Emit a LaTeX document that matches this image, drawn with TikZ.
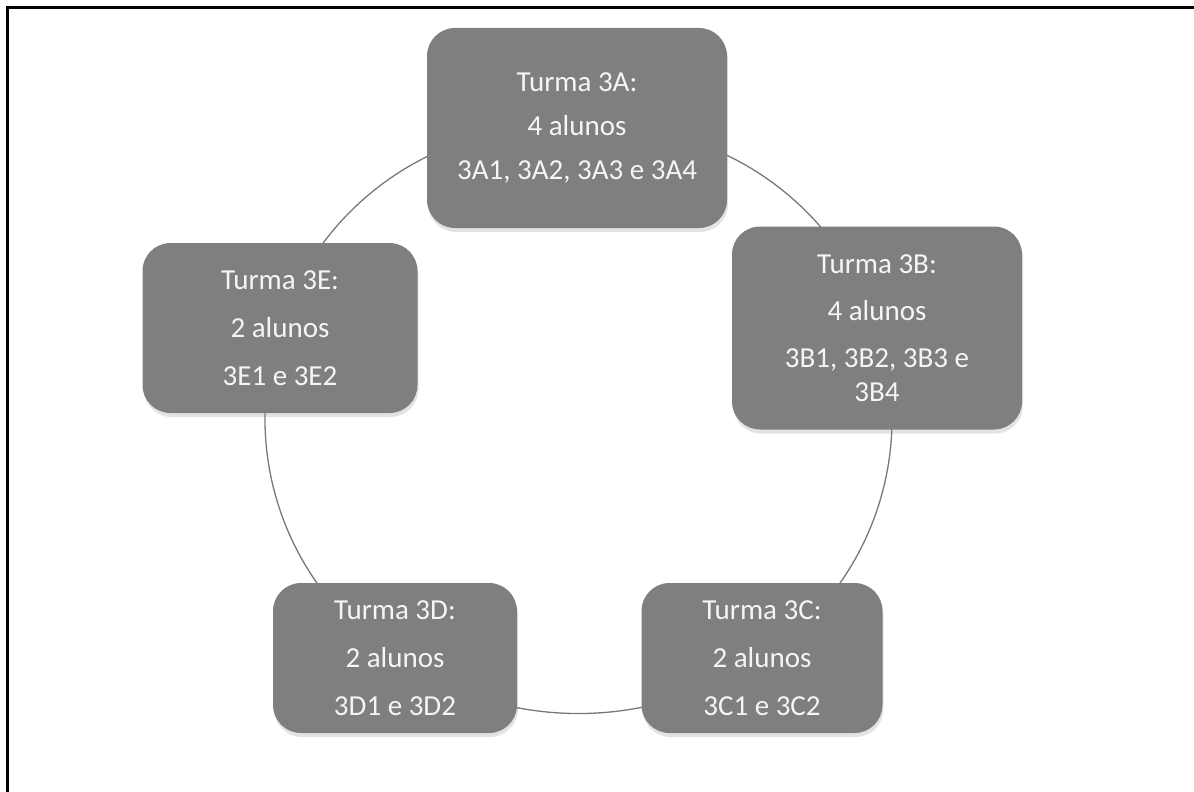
\documentclass[tikz,border=0pt]{standalone}
\usepackage{fontspec}
\setmainfont{Carlito}
\usetikzlibrary{backgrounds,shadows}
\definecolor{boxgray}{RGB}{127,127,127}
\definecolor{linegray}{RGB}{120,120,120}
\definecolor{txt}{RGB}{245,245,245}
\tikzset{
  turma/.style={draw=none, fill=boxgray, rounded corners=28pt, text=txt,
    align=center, font=\fontsize{29pt}{34pt}\selectfont, inner sep=0pt,
    drop shadow={shadow xshift=1pt, shadow yshift=-4pt, opacity=0.22}},
  link/.style={draw=linegray, line width=1.3pt, looseness=0.95},
  frameline/.style={draw=black, line width=3pt}
}
\begin{document}
\begin{tikzpicture}[x=1pt, y=-1pt]
\useasboundingbox (0,0) rectangle (1194,792);
\coordinate (fb) at (7,795);
\coordinate (fc) at (7,8);
\coordinate (fr) at (1197,8);
\draw[frameline] (fb) -- (fc) -- (fr);

\node[turma, minimum width=300pt, minimum height=200pt] (A) at (577,128)
  {Turma 3A:\\[10pt] 4 alunos\\[10pt] 3A1, 3A2, 3A3 e 3A4};
\node[turma, minimum width=290pt, minimum height=203pt] (B) at (877,328)
  {Turma 3B:\\[13pt] 4 alunos\\[13pt] 3B1, 3B2, 3B3 e\\ 3B4};
\node[turma, minimum width=241pt, minimum height=150pt] (C) at (762,658)
  {Turma 3C:\\[14pt] 2 alunos\\[14pt] 3C1 e 3C2};
\node[turma, minimum width=244pt, minimum height=150pt] (D) at (395,658)
  {Turma 3D:\\[14pt] 2 alunos\\[14pt] 3D1 e 3D2};
\node[turma, minimum width=275pt, minimum height=170pt] (E) at (280,328)
  {Turma 3E:\\[14pt] 2 alunos\\[14pt] 3E1 e 3E2};

\begin{scope}[on background layer]
  \draw[link] (A.center) to[bend left=39] (B.center);
  \draw[link] (B.center) to[bend left=38] (C.center);
  \draw[link] (C.center) to[bend left=33] (D.center);
  \draw[link] (D.center) to[bend left=38] (E.center);
  \draw[link] (E.center) to[bend left=39] (A.center);
\end{scope}
\end{tikzpicture}
\end{document}
